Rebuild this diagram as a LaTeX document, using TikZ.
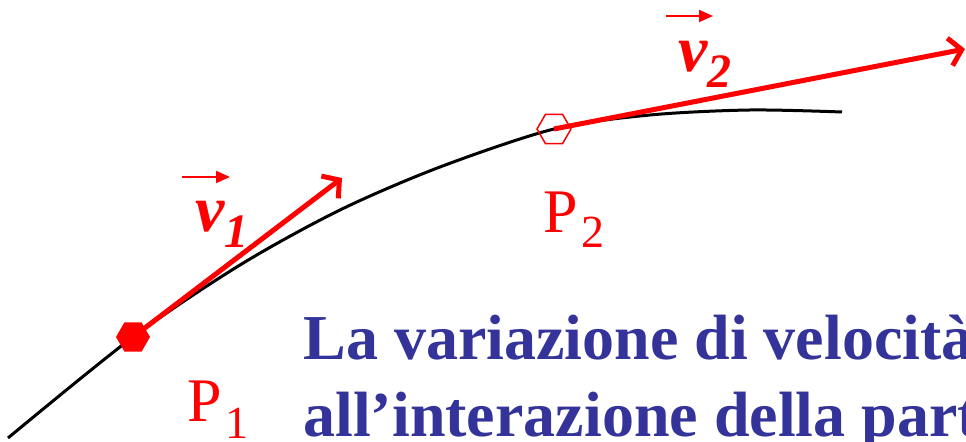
\documentclass[tikz,border=0pt]{standalone}
\usepackage{fontspec}
\setmainfont{Liberation Serif}
\usetikzlibrary{shapes.geometric, arrows.meta, positioning}
\definecolor{slideblue}{RGB}{51,51,153}
\definecolor{slidered}{RGB}{255,0,0}

\begin{document}
\begin{tikzpicture}[x=0.5pt, y=-0.5pt,
    hexpt/.style={regular polygon, regular polygon sides=6, minimum size=17pt, inner sep=0pt},
    velarrow/.style={slidered, line width=2.5pt, -{Straight Barb[length=6pt,width=14pt]}},
    veclab/.style={slidered, anchor=base west, inner sep=0pt, font=\fontsize{33}{33}\selectfont\bfseries\itshape},
    vecbar/.style={slidered, line width=1pt, -{Triangle[length=7pt,width=6pt]}},
    ptlab/.style={slidered, anchor=base west, inner sep=0pt, font=\fontsize{31}{31}\selectfont},
    slidetext/.style={slideblue, anchor=base west, inner sep=0pt, font=\fontsize{32}{32}\selectfont\bfseries}]
  \useasboundingbox (0,0) rectangle (966,442);
  \coordinate (start) at (8,438);
  \coordinate (c1) at (133,337);
  \coordinate (c2) at (554,129);
  \coordinate (stop) at (842,112);
  % trajectory
  \draw[line width=1.5pt] plot[smooth] coordinates {(start) (c1) (240,265) (340,210) (440,167) (c2) (650,115) (750,110) (stop)};
  \node[hexpt, fill=slidered] (p1) at (c1) {};
  \node[hexpt, draw=slidered, line width=0.75pt] (p2) at (c2) {};
  % velocities
  \coordinate (tip1) at (342,178);
  \coordinate (tip2) at (965,49);
  \draw[velarrow] (p1.center) -- (tip1);
  \draw[velarrow] (p2.center) -- (tip2);
  \node[veclab] (lv1) at (195,232) {v\raisebox{-8pt}{\fontsize{24}{24}\selectfont 1}};
  \node[veclab] (lv2) at (678,72) {v\raisebox{-8pt}{\fontsize{24}{24}\selectfont 2}};
  \draw[vecbar] ([shift={(-13,-55)}]lv1.base west) -- ++(48,0);
  \draw[vecbar] ([shift={(-12,-56)}]lv2.base west) -- ++(47,0);
  % points
  \node[ptlab] (lp1) at (187,422) {P\kern2pt\raisebox{-8.5pt}{\fontsize{23}{23}\selectfont 1}};
  \node[ptlab] (lp2) at (543,233) {P\kern2pt\raisebox{-7.5pt}{\fontsize{23}{23}\selectfont 2}};
  % text
  \node[slidetext] (line1) at (303,360) {La variazione di velocità};
  \node[slidetext] (line2) at ([shift={(0,77)}]line1.base west) {all’interazione della part};
\end{tikzpicture}
\end{document}
